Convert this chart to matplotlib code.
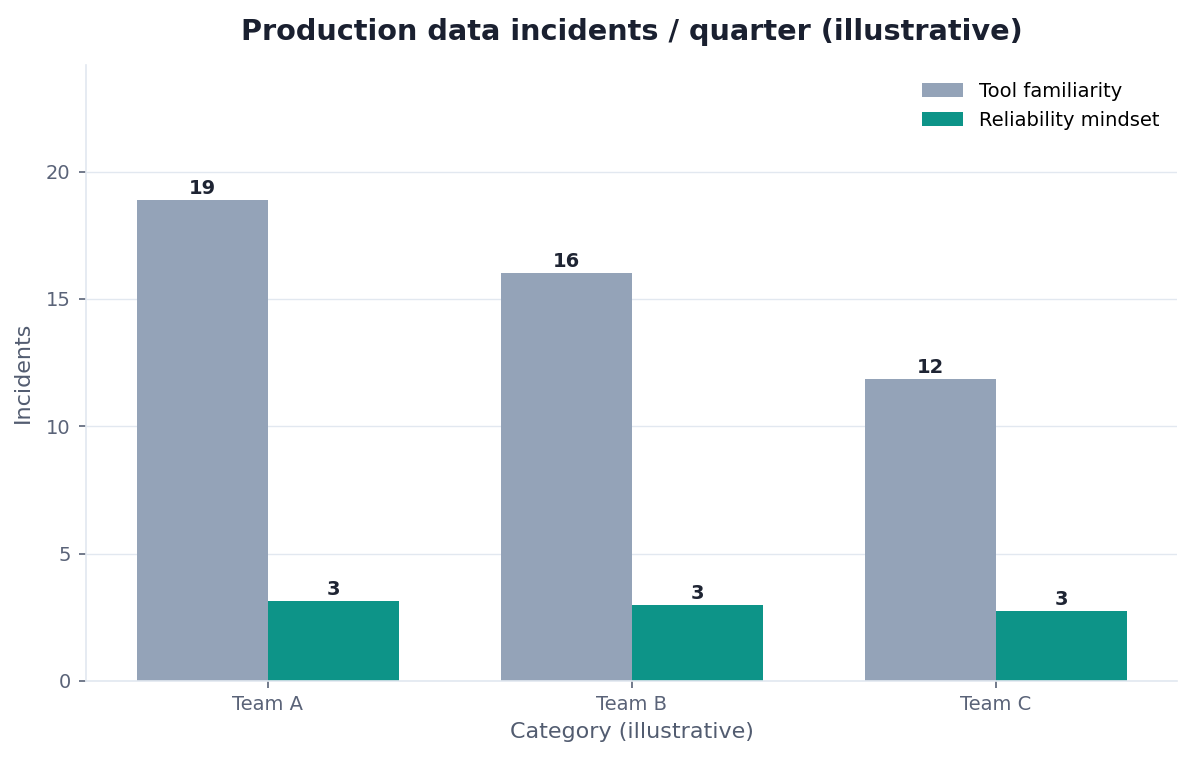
# Production incidents per quarter, grouped bars

import numpy as np
from matplotlib import pyplot as plt

teams = ["Team A", "Team B", "Team C"]
tool_familiarity = [18.9, 16.0, 11.85]
reliability_mindset = [3.15, 3.0, 2.75]

plt.rcParams['font.family'] = ['DejaVu Sans']

fig, ax = plt.subplots(figsize=(11.93, 7.6), dpi=100)
fig.subplots_adjust(left=0.072, right=0.987, top=0.915, bottom=0.104)

x = np.arange(len(teams))
w = 0.36

b1 = ax.bar(x - w / 2, tool_familiarity, w, color="#94A3B8", label="Tool familiarity", zorder=2)
b2 = ax.bar(x + w / 2, reliability_mindset, w, color="#0D9488", label="Reliability mindset", zorder=2)

for bars, vals in [(b1, tool_familiarity), (b2, reliability_mindset)]:
    for b, v in zip(bars, vals):
        ax.text(b.get_x() + b.get_width() / 2, v + 0.08, f"{v:.0f}",
                ha="center", va="bottom", fontsize=14, fontweight="bold", color="#1E2433")

ax.set_xlim(-0.5, 2.5)
ax.set_ylim(0, 24.2)
ax.set_yticks([0, 5, 10, 15, 20])
ax.set_xticks(x)
ax.set_xticklabels(teams)

ax.set_title("Production data incidents / quarter (illustrative)",
             fontsize=20.7, fontweight="bold", color="#1A2030", pad=18)
ax.set_xlabel("Category (illustrative)", fontsize=16, color="#525C70", labelpad=6)
ax.set_ylabel("Incidents", fontsize=16, color="#525C70", labelpad=9)

ax.tick_params(axis="both", labelsize=14, colors="#5A6378", length=5, width=1.2)
ax.tick_params(axis="x", pad=5)
ax.tick_params(axis="y", pad=6)
ax.grid(axis="y", color="#E2E8F0", linewidth=1, zorder=0)
for s in ["top", "right"]:
    ax.spines[s].set_visible(False)
for s in ["left", "bottom"]:
    ax.spines[s].set_color("#E2E8F0")
    ax.spines[s].set_linewidth(1.2)

ax.legend(frameon=False, fontsize=14, loc="upper right", handlelength=2.1, handleheight=0.7,
          handletextpad=0.85, labelspacing=0.5)

plt.savefig("out.png", dpi=100)
